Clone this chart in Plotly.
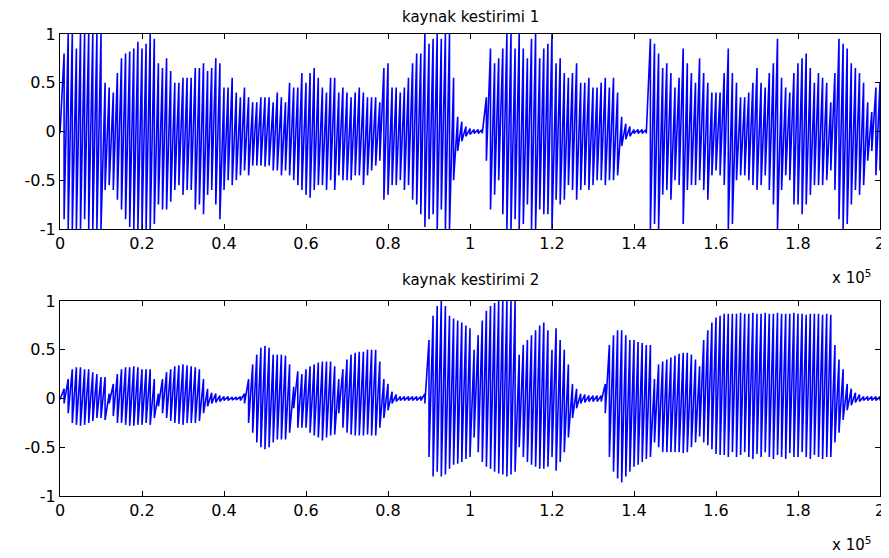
import plotly.graph_objects as go
from plotly.subplots import make_subplots

# sample index of each envelope reading (every 1000 samples, 0 .. 200000)
sample_idx = list(range(0, 200001, 1000))

# "kaynak kestirimi 1": upper / lower envelope
upper1 = [
    0.02, 0.8, 1, 1, 0.85, 1, 1, 1, 1, 1,
    1, 0.5, 0.45, 0.4, 0.6, 0.75, 0.8, 0.82, 0.85, 0.92,
    0.85, 0.9, 1, 0.95, 0.7, 0.65, 0.75, 0.62, 0.5, 0.5,
    0.55, 0.55, 0.55, 0.65, 0.65, 0.7, 0.62, 0.65, 0.75, 0.7,
    0.45, 0.45, 0.55, 0.4, 0.35, 0.45, 0.35, 0.3, 0.3, 0.35,
    0.35, 0.35, 0.3, 0.4, 0.35, 0.3, 0.5, 0.45, 0.45, 0.6,
    0.5, 0.6, 0.65, 0.55, 0.45, 0.4, 0.55, 0.55, 0.4, 0.45,
    0.4, 0.35, 0.4, 0.45, 0.4, 0.35, 0.35, 0.35, 0.3, 0.65,
    0.7, 0.45, 0.45, 0.4, 0.45, 0.55, 0.7, 0.8, 0.8, 1,
    0.9, 0.95, 1, 0.95, 1, 1, 0.55, 0.15, 0.1, 0.05,
    0.03, 0.02, 0.02, 0.02, 0.35, 0.85, 0.7, 0.75, 0.85, 1,
    1, 0.85, 1, 0.85, 0.75, 0.95, 1, 0.75, 0.85, 0.9,
    1, 0.7, 0.75, 0.6, 0.55, 0.6, 0.7, 0.5, 0.5, 0.55,
    0.45, 0.45, 0.5, 0.55, 0.45, 0.55, 0.4, 0.15, 0.08, 0.05,
    0.02, 0.02, 0.02, 0.02, 0.95, 0.9, 0.8, 0.65, 0.7, 0.6,
    0.45, 0.55, 0.85, 0.7, 0.6, 0.5, 0.75, 0.6, 0.5, 0.4,
    0.4, 0.4, 0.6, 0.85, 0.6, 0.5, 0.35, 0.35, 0.4, 0.5,
    0.65, 0.5, 0.45, 0.6, 0.7, 0.95, 0.55, 0.45, 0.4, 0.6,
    0.7, 0.75, 0.8, 0.65, 0.5, 0.6, 0.55, 0.5, 0.3, 0.6,
    0.95, 0.9, 0.85, 0.7, 0.65, 0.6, 0.5, 0.3, 0.2, 0.45,
    0.5,
]
lower1 = [
    -0.02, -0.9, -1, -1, -1, -1, -0.9, -1, -1, -1,
    -1, -0.6, -0.55, -0.6, -0.7, -0.8, -0.9, -0.98, -1, -1,
    -1, -1, -1, -0.95, -0.75, -0.8, -0.8, -0.72, -0.6, -0.55,
    -0.65, -0.6, -0.6, -0.8, -0.75, -0.85, -0.65, -0.6, -0.75, -0.9,
    -0.6, -0.5, -0.55, -0.5, -0.45, -0.4, -0.45, -0.35, -0.35, -0.35,
    -0.36, -0.35, -0.4, -0.4, -0.45, -0.4, -0.45, -0.5, -0.55, -0.6,
    -0.65, -0.68, -0.6, -0.55, -0.55, -0.6, -0.5, -0.6, -0.45, -0.5,
    -0.5, -0.5, -0.45, -0.45, -0.55, -0.45, -0.4, -0.35, -0.3, -0.7,
    -0.65, -0.55, -0.55, -0.5, -0.6, -0.55, -0.7, -0.75, -0.85, -0.98,
    -0.9, -0.85, -1, -0.8, -1, -1, -0.5, -0.2, -0.1, -0.05,
    -0.03, -0.02, -0.02, -0.02, -0.3, -0.8, -0.65, -0.5, -0.85, -1,
    -1, -0.9, -1, -0.95, -0.75, -1, -1, -0.8, -0.85, -0.85,
    -1, -0.7, -0.75, -0.7, -0.55, -0.6, -0.7, -0.6, -0.55, -0.6,
    -0.55, -0.5, -0.5, -0.55, -0.5, -0.5, -0.45, -0.15, -0.08, -0.05,
    -0.02, -0.02, -0.02, -0.02, -1, -0.95, -1, -0.65, -0.6, -0.7,
    -0.5, -0.55, -0.95, -0.6, -0.55, -0.55, -0.5, -0.6, -0.7, -0.45,
    -0.4, -0.45, -0.55, -1, -0.95, -0.5, -0.45, -0.45, -0.5, -0.55,
    -0.6, -0.55, -0.45, -0.6, -0.75, -1, -0.6, -0.45, -0.5, -0.75,
    -0.75, -0.85, -0.75, -0.65, -0.55, -0.55, -0.55, -0.5, -0.4, -0.6,
    -0.9, -1, -0.95, -0.75, -0.6, -0.65, -0.55, -0.3, -0.2, -0.45,
    -0.4,
]

# "kaynak kestirimi 2": upper / lower envelope
upper2 = [
    0.01, 0.1, 0.2, 0.3, 0.32, 0.32, 0.3, 0.3, 0.27, 0.25,
    0.22, 0.22, 0.05, 0.15, 0.25, 0.3, 0.32, 0.32, 0.33, 0.32,
    0.3, 0.3, 0.3, 0.2, 0.05, 0.2, 0.27, 0.3, 0.33, 0.34,
    0.35, 0.34, 0.33, 0.32, 0.3, 0.2, 0.1, 0.06, 0.05, 0.03,
    0.02, 0.02, 0.015, 0.015, 0.02, 0.05, 0.2, 0.35, 0.45, 0.52,
    0.54, 0.52, 0.45, 0.45, 0.45, 0.44, 0.35, 0.12, 0.28, 0.25,
    0.3, 0.33, 0.35, 0.37, 0.38, 0.38, 0.38, 0.33, 0.2, 0.3,
    0.4, 0.45, 0.47, 0.48, 0.48, 0.5, 0.5, 0.5, 0.38, 0.2,
    0.15, 0.07, 0.04, 0.02, 0.02, 0.02, 0.02, 0.02, 0.02, 0.05,
    0.6, 0.85, 0.95, 1, 0.95, 0.85, 0.82, 0.8, 0.78, 0.75,
    0.72, 0.5, 0.65, 0.8, 0.9, 0.95, 0.98, 1, 1, 1,
    1, 1, 0.45, 0.55, 0.6, 0.65, 0.7, 0.75, 0.78, 0.7,
    0.5, 0.72, 0.6, 0.5, 0.35, 0.15, 0.1, 0.05, 0.04, 0.03,
    0.03, 0.03, 0.03, 0.15, 0.55, 0.65, 0.7, 0.7, 0.65, 0.6,
    0.6, 0.58, 0.57, 0.55, 0.55, 0.2, 0.35, 0.38, 0.4, 0.42,
    0.44, 0.46, 0.47, 0.47, 0.45, 0.4, 0.33, 0.6, 0.7, 0.78,
    0.83, 0.85, 0.87, 0.87, 0.87, 0.87, 0.88, 0.87, 0.87, 0.88,
    0.87, 0.87, 0.88, 0.87, 0.87, 0.88, 0.87, 0.87, 0.87, 0.88,
    0.87, 0.87, 0.86, 0.87, 0.87, 0.87, 0.86, 0.87, 0.86, 0.55,
    0.4, 0.3, 0.15, 0.1, 0.06, 0.04, 0.02, 0.02, 0.02, 0.02,
    0.02,
]
lower2 = [
    -0.01, -0.05, -0.15, -0.25, -0.27, -0.28, -0.27, -0.25, -0.23, -0.2,
    -0.2, -0.22, -0.05, -0.18, -0.25, -0.25, -0.27, -0.28, -0.28, -0.27,
    -0.27, -0.25, -0.27, -0.2, -0.08, -0.15, -0.2, -0.23, -0.25, -0.26,
    -0.27, -0.25, -0.25, -0.25, -0.23, -0.15, -0.08, -0.05, -0.04, -0.03,
    -0.02, -0.02, -0.015, -0.015, -0.02, -0.05, -0.25, -0.35, -0.45, -0.5,
    -0.52, -0.5, -0.45, -0.42, -0.42, -0.42, -0.35, -0.1, -0.3, -0.3,
    -0.3, -0.35, -0.38, -0.4, -0.43, -0.4, -0.38, -0.37, -0.15, -0.3,
    -0.35, -0.37, -0.38, -0.38, -0.38, -0.37, -0.38, -0.38, -0.3, -0.2,
    -0.12, -0.05, -0.03, -0.02, -0.02, -0.02, -0.02, -0.02, -0.02, -0.05,
    -0.6, -0.8, -0.75, -0.8, -0.78, -0.72, -0.68, -0.67, -0.65, -0.62,
    -0.6, -0.4, -0.55, -0.65, -0.7, -0.72, -0.75, -0.77, -0.78, -0.8,
    -0.78, -0.75, -0.5, -0.6, -0.65, -0.68, -0.7, -0.72, -0.72, -0.7,
    -0.6, -0.74, -0.65, -0.55, -0.4, -0.2, -0.1, -0.05, -0.04, -0.03,
    -0.03, -0.03, -0.03, -0.15, -0.6, -0.75, -0.82, -0.86, -0.8, -0.75,
    -0.7, -0.68, -0.65, -0.62, -0.6, -0.45, -0.5, -0.55, -0.55, -0.55,
    -0.55, -0.55, -0.56, -0.55, -0.5, -0.45, -0.39, -0.45, -0.48, -0.52,
    -0.57, -0.58, -0.58, -0.6, -0.55, -0.6, -0.58, -0.55, -0.6, -0.62,
    -0.57, -0.6, -0.55, -0.6, -0.62, -0.58, -0.6, -0.62, -0.56, -0.6,
    -0.6, -0.55, -0.6, -0.62, -0.58, -0.6, -0.62, -0.6, -0.6, -0.45,
    -0.35, -0.22, -0.12, -0.07, -0.04, -0.03, -0.02, -0.02, -0.02, -0.02,
    -0.02,
]

titles = ["kaynak kestirimi 1", "kaynak kestirimi 2"]
x_tickvals = [0, 20000, 40000, 60000, 80000, 100000, 120000, 140000, 160000, 180000, 200000]
x_ticktext = ["0", "0.2", "0.4", "0.6", "0.8", "1", "1.2", "1.4", "1.6", "1.8", "2"]
y_tickvals = [-1, -0.5, 0, 0.5, 1]
y_ticktext = ["-1", "-0.5", "0", "0.5", "1"]
exponent_text = "x 10<sup>5</sup>"


def zigzag(xs, up, lo):
    px, py = [], []
    for x, u, l in zip(xs, up, lo):
        px += [x, x]
        py += [u, l]
    return px, py


FONT = "DejaVu Sans"
fig = make_subplots(rows=2, cols=1, vertical_spacing=0.156)

for row, (up, lo) in enumerate([(upper1, lower1), (upper2, lower2)], start=1):
    zx, zy = zigzag(sample_idx, up, lo)
    fig.add_trace(
        go.Scatter(x=zx, y=zy, mode="lines", line=dict(color="#0000ff", width=1.6),
                   showlegend=False, hoverinfo="skip"),
        row=row, col=1,
    )
    fig.update_xaxes(range=[0, 200000], tickvals=x_tickvals, ticktext=x_ticktext,
                     row=row, col=1)
    fig.update_yaxes(range=[-1, 1], tickvals=y_tickvals, ticktext=y_ticktext,
                     row=row, col=1)

axis_style = dict(showgrid=False, zeroline=False, showline=True, mirror="ticks",
                  linecolor="black", linewidth=1, ticks="inside", ticklen=5,
                  tickcolor="black", automargin=False,
                  tickfont=dict(family=FONT, size=16, color="black"))
fig.update_xaxes(**axis_style)
fig.update_yaxes(**axis_style)

# the page adds an 8px body margin, so the figure is sized to fit inside it
fig.update_layout(
    width=881, height=550,
    margin=dict(l=52, r=9, t=26, b=62),
    paper_bgcolor="white", plot_bgcolor="white",
    yaxis=dict(domain=[0.578, 1.0]),
    yaxis2=dict(domain=[0.0, 0.422]),
)

ann_font = dict(family=FONT, size=15, color="black")
# titles
fig.add_annotation(text=titles[0], xref="paper", yref="paper", x=0.5, y=1.037,
                   xanchor="center", yanchor="middle", showarrow=False, font=ann_font)
fig.add_annotation(text=titles[1], xref="paper", yref="paper", x=0.5, y=0.4675,
                   xanchor="center", yanchor="middle", showarrow=False, font=ann_font)
# exponent labels
fig.add_annotation(text=exponent_text, xref="paper", yref="paper", x=0.992, y=0.474,
                   xanchor="right", yanchor="middle", showarrow=False, font=ann_font)
fig.add_annotation(text=exponent_text, xref="paper", yref="paper", x=0.992, y=-0.103,
                   xanchor="right", yanchor="middle", showarrow=False, font=ann_font)

fig.write_html("out.html")
